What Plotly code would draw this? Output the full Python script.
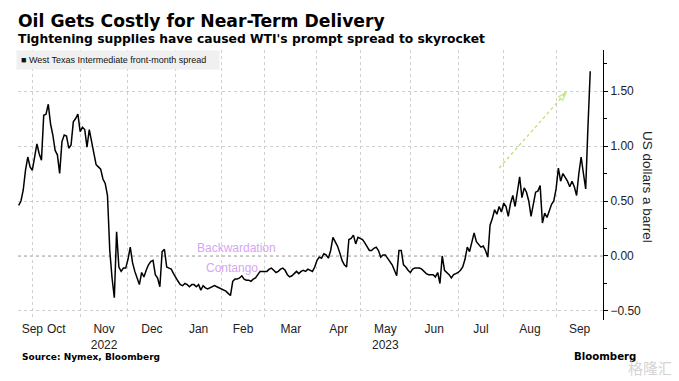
import numpy as np
import pandas as pd
import plotly.graph_objects as go

# ------------------------------------------------------------------ data
FIRST_SESSION = "2022-09-23"
LAST_SESSION = "2023-09-25"
NYMEX_HOLIDAYS = ["2022-11-24", "2022-12-26", "2023-01-02", "2023-01-16",
                  "2023-02-20", "2023-04-07", "2023-05-29", "2023-06-19",
                  "2023-07-04", "2023-09-04"]

# WTI front-month spread, US$ a barrel, one value per trading session
spread_usd = [
    # Sep 2022
    0.46, 0.50, 0.60, 0.78, 0.90, 0.81,
    # Oct
    0.78, 0.91, 1.02, 0.93, 0.87, 1.28, 1.29, 1.38, 1.20, 1.10, 0.96, 0.92, 0.75,
    1.04, 1.10, 1.09, 0.98, 1.01, 1.22, 1.25, 1.29,
    # Nov
    1.13, 1.17, 1.15, 0.99, 1.15, 1.05, 0.92, 0.83, 0.81, 0.79, 0.70, 0.66, 0.55,
    0.05, -0.20, -0.38, 0.22, -0.10, -0.14, -0.11, -0.11,
    # Dec
    -0.03, 0.08, -0.06, -0.14, -0.21, -0.26, -0.15, -0.19, -0.13, -0.08, -0.05,
    -0.04, -0.17, -0.20, -0.28, 0.04, 0.06, -0.10, -0.11, -0.12, -0.16,
    # Jan 2023
    -0.20, -0.23, -0.26, -0.27, -0.25, -0.26, -0.28, -0.26, -0.26, -0.28, -0.26,
    -0.31, -0.27, -0.29, -0.30, -0.29, -0.28, -0.27, -0.28, -0.29,
    # Feb
    -0.30, -0.31, -0.32, -0.34, -0.36, -0.23, -0.21, -0.21, -0.20, -0.18, -0.21,
    -0.22, -0.22, -0.23, -0.21, -0.20, -0.17, -0.14, -0.14,
    # Mar
    -0.14, -0.14, -0.12, -0.11, -0.13, -0.15, -0.14, -0.12, -0.11, -0.13, -0.17,
    -0.19, -0.18, -0.16, -0.14, -0.16, -0.14, -0.13, -0.14, -0.12, -0.13, -0.14,
    -0.10,
    # Apr
    -0.04, -0.01, -0.02, 0.02, 0.01, -0.02, 0.05, 0.17, 0.13, 0.09, 0.03, -0.04,
    -0.08, -0.10, 0.15, 0.16, 0.19, 0.11, 0.17,
    # May
    0.16, 0.15, 0.12, 0.08, 0.05, 0.05, 0.07, 0.08, 0.05, -0.01, 0.01, 0.01,
    -0.02, -0.05, -0.08, -0.13, -0.18, 0.05, 0.05, -0.08, -0.10, -0.13,
    # Jun
    -0.15, -0.12, -0.11, -0.11, -0.11, -0.12, -0.14, -0.16, -0.17, -0.17, -0.17,
    -0.19, -0.15, -0.25, 0.00, -0.13, -0.15, -0.17, -0.20, -0.17, -0.16,
    # Jul
    -0.15, -0.13, -0.10, -0.03, 0.08, 0.04, 0.14, 0.21, 0.13, 0.10, 0.08, 0.09,
    0.05, -0.01, 0.28, 0.34, 0.42, 0.38, 0.45, 0.40,
    # Aug
    0.48, 0.45, 0.36, 0.48, 0.55, 0.45, 0.58, 0.72, 0.53, 0.62, 0.58, 0.50, 0.36,
    0.48, 0.58, 0.59, 0.64, 0.30, 0.39, 0.35, 0.42, 0.47, 0.50,
    # Sep
    0.61, 0.80, 0.68, 0.75, 0.72, 0.68, 0.63, 0.68, 0.63, 0.55, 0.75, 0.90, 0.75,
    0.61, 1.18, 1.68,
]

SERIES_NAME = "West Texas Intermediate front-month spread"
TITLE = "Oil Gets Costly for Near-Term Delivery"
SUBTITLE = "Tightening supplies have caused WTI's prompt spread to skyrocket"
SOURCE = "Source: Nymex, Bloomberg"
Y_TITLE = "US dollars a barrel"
LABEL_ABOVE = "Backwardation"
LABEL_BELOW = "Contango"

# annotation anchors (session number, US$)
LABEL_ABOVE_AT = (95.5, 0.075)
LABEL_BELOW_AT = (93.8, -0.106)
ARROW_FROM = (211.0, 0.80)
ARROW_TO = (240.5, 1.49)

# ------------------------------------------------------------------ layout constants
PAGE_W, PAGE_H = 679, 381
BODY = 8                      # default page margin around the plotly div
W, H = PAGE_W - BODY, PAGE_H - BODY
PLOT_L, PLOT_R, PLOT_T, PLOT_B = 18, 603, 50, 320   # page pixels
M_L, M_T = PLOT_L - BODY, PLOT_T - BODY
M_R, M_B = W - (PLOT_R - BODY), H - (PLOT_B - BODY)
PW, PH = PLOT_R - PLOT_L, PLOT_B - PLOT_T
X_RANGE = [-0.3, 256.6]
Y_RANGE = [-0.582, 1.873]
FONT = "Liberation Sans"
HEAVY = "DejaVu Sans"


def px(xp):
    return (xp - PLOT_L) / PW


def py(yp):
    return (PLOT_B - yp) / PH


# ------------------------------------------------------------------ trading calendar
sessions = pd.bdate_range(FIRST_SESSION, LAST_SESSION, freq="C",
                          holidays=NYMEX_HOLIDAYS)
assert len(sessions) == len(spread_usd), (len(sessions), len(spread_usd))
x = np.arange(len(sessions))
months = sessions.to_period("M")
month_starts = [i for i in range(1, len(sessions)) if months[i] != months[i - 1]]
month_list = [months[0]] + [months[i] for i in month_starts]
bounds = [X_RANGE[0]] + month_starts + [X_RANGE[1]]

tick_pos, tick_txt = [], []
for k, m in enumerate(month_list):
    a, b = bounds[k], bounds[k + 1]
    pos = b if (b - a) < 10 else (a + b) / 2
    tick_pos.append(pos)
    tick_txt.append(m.strftime("%b"))

# year label under the month closest to the middle of each year's span
years = sorted(set(m.year for m in month_list))
for yr in years:
    idx = [k for k, m in enumerate(month_list) if m.year == yr]
    a, b = bounds[idx[0]], bounds[idx[-1] + 1]
    mid = (a + b) / 2
    best = min(idx, key=lambda k: abs(tick_pos[k] - mid))
    tick_txt[best] += "<br>" + str(yr)

# ------------------------------------------------------------------ figure
fig = go.Figure()
fig.add_trace(go.Scatter(
    x=x, y=spread_usd, mode="lines", name=SERIES_NAME,
    line=dict(color="#000000", width=1.5), showlegend=False,
    hoverinfo="skip"))

fig.add_trace(go.Scatter(
    x=[ARROW_FROM[0], ARROW_TO[0]], y=[ARROW_FROM[1], ARROW_TO[1]],
    mode="lines+markers", showlegend=False, hoverinfo="skip",
    line=dict(color="#b7e26a", width=1.3, dash="dot"),
    marker=dict(symbol=["circle", "arrow-open"], size=[0, 9],
                angleref="previous", color="#b7e26a",
                line=dict(color="#b7e26a", width=1.3))))

fig.add_shape(type="line", xref="paper", x0=0, x1=1, yref="y", y0=0, y1=0,
              line=dict(color="#8c8c8c", width=1, dash="dot"), layer="below")

ann = []
ann.append(dict(text="<b>" + TITLE + "</b>", xref="paper", yref="paper",
                x=px(16), y=py(21), xanchor="left", yanchor="middle",
                showarrow=False, font=dict(family=HEAVY, size=17.2, color="#000")))
ann.append(dict(text="<b>" + SUBTITLE + "</b>", xref="paper", yref="paper",
                x=px(16), y=py(39), xanchor="left", yanchor="middle",
                showarrow=False, font=dict(family=HEAVY, size=12.3, color="#000")))
ann.append(dict(text="■ " + SERIES_NAME, xref="paper", yref="paper",
                x=px(16), y=1.0, xanchor="left", yanchor="top", align="left",
                width=194, bgcolor="#f0f0f0", borderpad=4, showarrow=False,
                font=dict(family=FONT, size=9, color="#111")))
ann.append(dict(text=LABEL_ABOVE, x=LABEL_ABOVE_AT[0], y=LABEL_ABOVE_AT[1],
                xref="x", yref="y", showarrow=False,
                font=dict(family=FONT, size=12, color="#d6a6f5")))
ann.append(dict(text=LABEL_BELOW, x=LABEL_BELOW_AT[0], y=LABEL_BELOW_AT[1],
                xref="x", yref="y", showarrow=False,
                font=dict(family=FONT, size=12, color="#d6a6f5")))
ann.append(dict(text=Y_TITLE, xref="paper", yref="paper", x=px(648),
                y=py(187), xanchor="center", yanchor="middle", textangle=90,
                showarrow=False,
                font=dict(family=FONT, size=13.5, color="#222")))
ann.append(dict(text="<b>" + SOURCE + "</b>", xref="paper", yref="paper",
                x=px(20), y=py(357), xanchor="left", yanchor="middle",
                showarrow=False, font=dict(family=HEAVY, size=9, color="#000")))
ann.append(dict(text="<b>Bloomberg</b>", xref="paper", yref="paper",
                x=px(572), y=py(356), xanchor="left", yanchor="middle",
                showarrow=False, font=dict(family=HEAVY, size=10.2, color="#000")))
ann.append(dict(text="格隆汇", xref="paper", yref="paper",
                x=px(650), y=py(367), xanchor="center", yanchor="middle",
                showarrow=False,
                font=dict(family="Noto Sans CJK SC", size=15, color="#d4d4d4")))

fig.update_layout(
    width=W, height=H,
    margin=dict(l=M_L, r=M_R, t=M_T, b=M_B, autoexpand=False),
    paper_bgcolor="#ffffff", plot_bgcolor="#ffffff",
    font=dict(family=FONT, size=12, color="#222"),
    annotations=ann,
    xaxis=dict(
        range=X_RANGE, tickmode="array", tickvals=tick_pos, ticktext=tick_txt,
        ticks="", showgrid=False, zeroline=False, showline=False,
        tickfont=dict(family=FONT, size=12, color="#222"),
        minor=dict(tickmode="array", tickvals=month_starts, showgrid=True,
                   gridcolor="#cfcfcf", griddash="dot", gridwidth=1, ticks=""),
        fixedrange=True),
    yaxis=dict(
        range=Y_RANGE, side="right", tick0=0, dtick=0.5, tickformat=".2f",
        ticks="outside", ticklen=4, tickwidth=1, tickcolor="#000",
        showline=True, linecolor="#000", linewidth=1,
        showgrid=True, gridcolor="#cfcfcf", griddash="dot", gridwidth=1,
        zeroline=False,
        tickfont=dict(family=FONT, size=12, color="#222"),
        minor=dict(tick0=0, dtick=0.25, ticks="outside", ticklen=3,
                   tickcolor="#000", showgrid=False),
        fixedrange=True),
    showlegend=False,
)

fig.write_html("out.html")
